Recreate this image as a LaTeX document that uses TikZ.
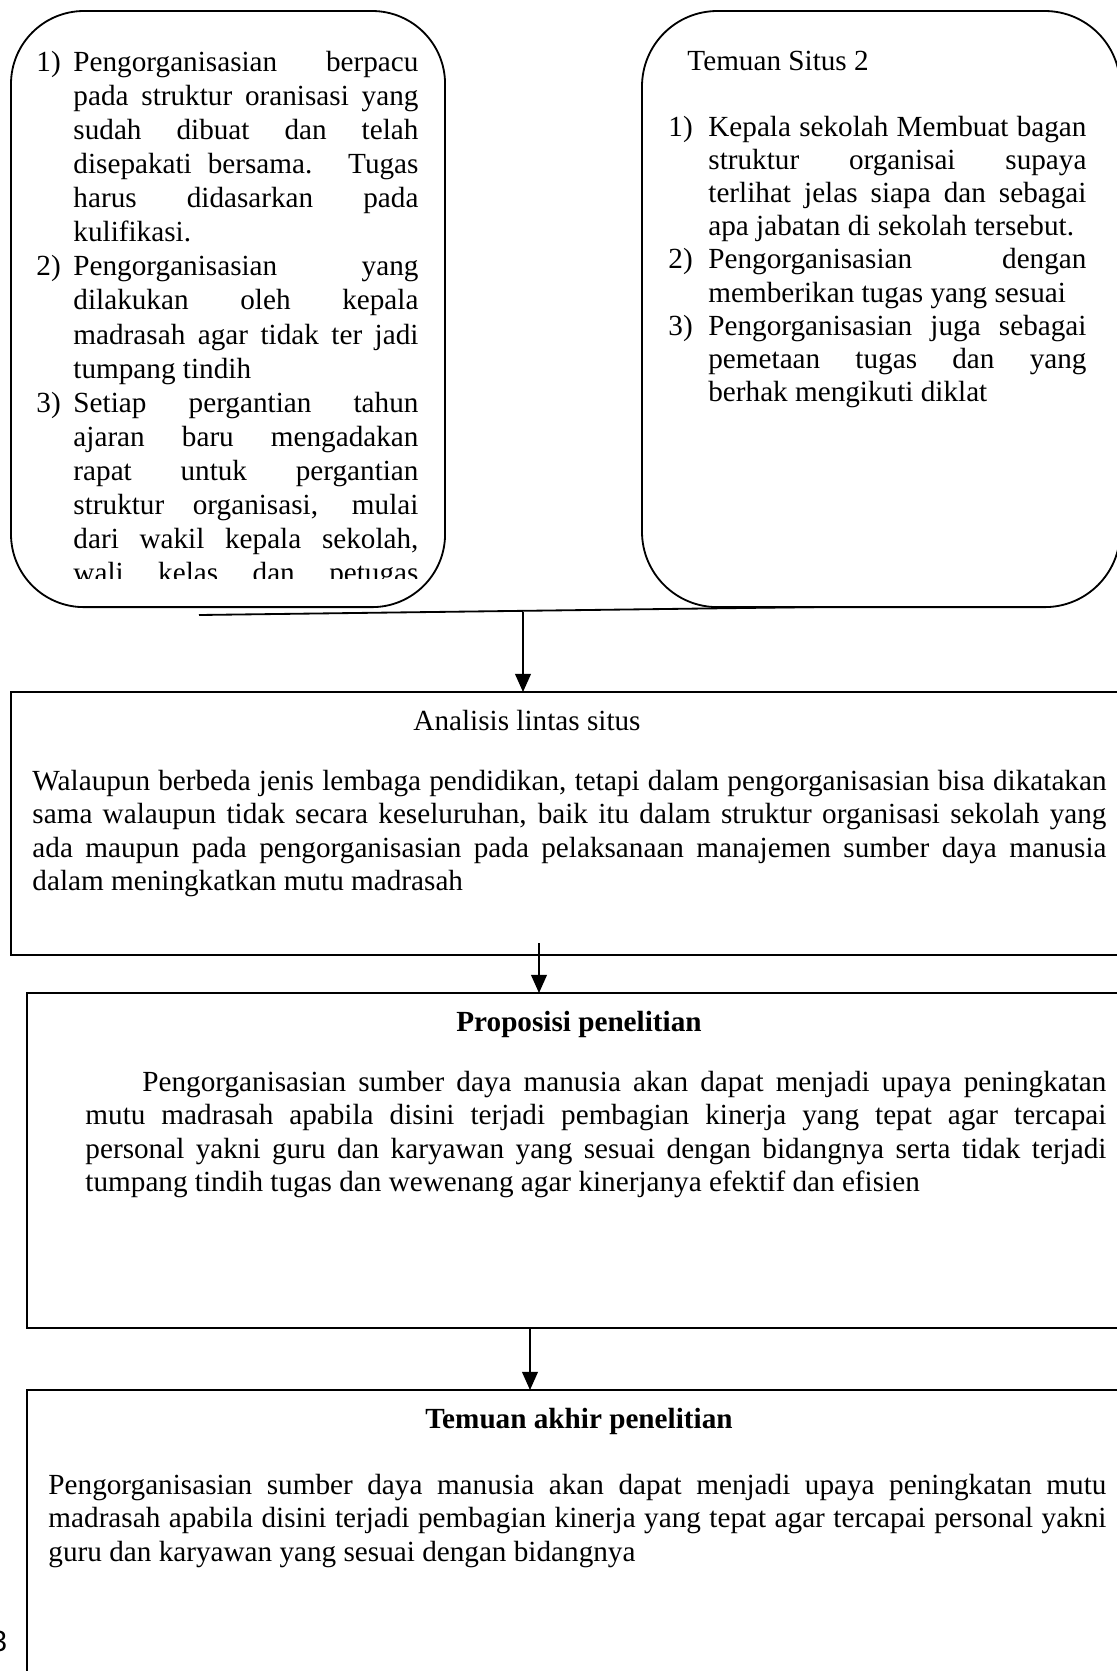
\documentclass[tikz,border=0pt]{standalone}
\usepackage{fontspec}
\setmainfont{Liberation Serif}
\setsansfont{Liberation Sans}
\usetikzlibrary{arrows.meta}

\hyphenpenalty=10000
\exhyphenpenalty=10000
\hbadness=10000

% numbered item with hanging text
\newcommand{\numitem}[2]{\par\noindent\hangindent=#1\hangafter=1\makebox[#1][l]{\strut#2}}

\begin{document}
\begin{tikzpicture}[x=0.411pt, y=-0.411pt, >={Triangle[length=7.5pt, width=6.5pt]},
    roundbox/.style={draw, line width=.75pt, outer sep=0pt, inner sep=0pt, anchor=north west},
    plainbox/.style={draw, line width=1pt, outer sep=0pt, inner sep=0pt, anchor=north west},
    para/.style={inner sep=0pt, anchor=north west, align=justify, font=\fontsize{12pt}{13.8pt}\selectfont},
    head/.style={inner sep=0pt, anchor=base, font=\fontsize{12pt}{13.8pt}\selectfont}]
       \useasboundingbox (0,0) rectangle (1116,1671);

       % site findings
       \node [roundbox, rounded corners=30pt, minimum width=178.4pt, minimum height=245pt] (lbox) at (11,11) {};
       \node [roundbox, rounded corners=31pt, minimum width=196.5pt, minimum height=245pt] (rbox) at (642,11) {};

       \begin{scope}
       \clip (11,11) rectangle (445,578);
       \node [para, text width=157pt, font=\fontsize{12pt}{14pt}\selectfont] (ltxt) at (36,37) {%
       \numitem{15.2pt}{1)}Pengorganisasian berpacu\linebreak pada struktur oranisasi yang\linebreak sudah dibuat dan telah\linebreak disepakati bersama. Tugas\linebreak harus didasarkan pada\linebreak kulifikasi.
       \numitem{15.2pt}{2)}Pengorganisasian yang\linebreak dilakukan oleh kepala\linebreak madrasah agar tidak ter jadi\linebreak tumpang tindih
       \numitem{15.2pt}{3)}Setiap pergantian tahun\linebreak ajaran baru mengadakan\linebreak rapat untuk pergantian\linebreak struktur organisasi, mulai\linebreak dari wakil kepala sekolah,\linebreak wali kelas dan petugas\parfillskip=0pt\par};
       \end{scope}

       \node [head, anchor=base west] (rhead) at (687,70) {Temuan Situs 2};
       \node [para, text width=171.8pt, font=\fontsize{12pt}{13.6pt}\selectfont] (rtxt) at (668,103) {%
       \numitem{16.4pt}{1)}Kepala sekolah Membuat bagan\linebreak struktur organisai supaya\linebreak terlihat jelas siapa dan sebagai\linebreak apa jabatan di sekolah tersebut.
       \numitem{16.4pt}{2)}Pengorganisasian dengan\linebreak memberikan tugas yang sesuai
       \numitem{16.4pt}{3)}Pengorganisasian juga sebagai\linebreak pemetaan tugas dan yang\linebreak berhak mengikuti diklat\par};

       % joining line
       \coordinate (j0) at (199,615);
       \coordinate (j1) at (820,607);
       \draw [line width=.75pt] (j0) -- (j1);

       % cross-site analysis
       \node [plainbox, minimum width=462pt, minimum height=108.1pt] (anl) at (11,692) {};
       \node [head] (anlt) at (527,730) {Analisis lintas situs};
       \node [para, text width=441.4pt] (anlp) at (32,766) {\noindent\strut Walaupun berbeda jenis lembaga pendidikan, tetapi dalam pengorganisasian bisa dikatakan\linebreak sama walaupun tidak secara keseluruhan, baik itu dalam struktur organisasi sekolah yang\linebreak ada maupun pada pengorganisasian pada pelaksanaan manajemen sumber daya manusia\linebreak dalam meningkatkan mutu madrasah};

       % proposition
       \node [plainbox, minimum width=455.4pt, minimum height=137.7pt] (prop) at (27,993) {};
       \node [head, font=\bfseries\fontsize{12pt}{13.8pt}\selectfont] (propt) at (579,1031) {Proposisi penelitian};
       \node [para, text width=419.6pt] (propp) at (85,1067) {\noindent\strut\hspace*{23.4pt}Pengorganisasian sumber daya manusia akan dapat menjadi upaya peningkatan\linebreak mutu madrasah apabila disini terjadi pembagian kinerja yang tepat agar tercapai\linebreak personal yakni guru dan karyawan yang sesuai dengan bidangnya serta tidak terjadi\linebreak tumpang tindih tugas dan wewenang agar kinerjanya efektif dan efisien};

       % final finding
       \node [plainbox, minimum width=455.4pt, minimum height=127.4pt] (akhir) at (27,1390) {};
       \node [head, font=\bfseries\fontsize{12pt}{13.8pt}\selectfont] (akhirt) at (579,1428) {Temuan akhir penelitian};
       \node [para, text width=434.8pt] (akhirp) at (48,1470) {\noindent\strut Pengorganisasian sumber daya manusia akan dapat menjadi upaya peningkatan mutu\linebreak madrasah apabila disini terjadi pembagian kinerja yang tepat agar tercapai personal yakni\linebreak guru dan karyawan yang sesuai dengan bidangnya};

       % arrows
       \coordinate (a1) at (523,612);
       \coordinate (a2) at (539,943);
       \coordinate (a3) at (530,1328);
       \draw [->, line width=.75pt] (a1) -- (a1 |- anl.north);
       \draw [->, line width=.75pt] (a2) -- (a2 |- prop.north);
       \draw [->, line width=.75pt] (a3) -- (a3 |- akhir.north);

       % page number
       \node [head, font=\sffamily\fontsize{12pt}{13.8pt}\selectfont] (pgno) at (-1,1651) {3};
\end{tikzpicture}
\end{document}
